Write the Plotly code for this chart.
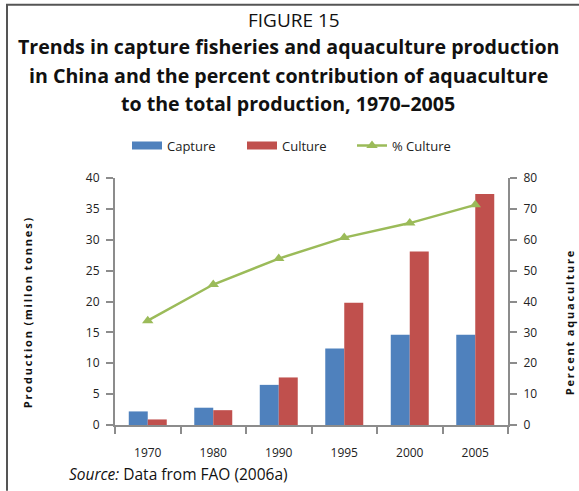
import plotly.graph_objects as go

years = ["1970", "1980", "1990", "1995", "2000", "2005"]
capture = [2.2, 2.8, 6.5, 12.4, 14.6, 14.6]
culture = [0.9, 2.4, 7.7, 19.8, 28.1, 37.4]
pct_culture = [33.8, 45.5, 53.9, 60.7, 65.4, 71.3]
left_ticks = [0, 5, 10, 15, 20, 25, 30, 35, 40]
right_ticks = [0, 10, 20, 30, 40, 50, 60, 70, 80]

W, H = 579, 491
L, R, T, B = 115, 71, 177.5, 66
PW = W - L - R
PH = H - T - B

def px_x(x):
    return (x - L) / PW

def px_y(y):
    return (H - B - y) / PH

FONT = "Open Sans"
AXC = "#8c8c8c"
BLUE, RED, GREEN = "#4F81BD", "#C0504D", "#9BBB59"

fig = go.Figure()
fig.add_trace(go.Bar(x=years, y=capture, name="Capture", marker_color=BLUE,
                     marker_line_width=0, showlegend=False, legendgroup="cap"))
fig.add_trace(go.Bar(x=years, y=culture, name="Culture", marker_color=RED,
                     marker_line_width=0, showlegend=False, legendgroup="cul"))
fig.add_trace(go.Scatter(x=years, y=pct_culture, name="% Culture", yaxis="y2",
                         mode="lines+markers",
                         line=dict(color=GREEN, width=2.5),
                         marker=dict(symbol="triangle-up", size=10, color=GREEN),
                         legend="legend3"))
# legend-only stand-ins giving the wide flat swatches of the reference legend
fig.add_trace(go.Scatter(x=[None], y=[None], mode="lines", name="Capture",
                         line=dict(color=BLUE, width=8), legendgroup="cap", legend="legend"))
fig.add_trace(go.Scatter(x=[None], y=[None], mode="lines", name="Culture",
                         line=dict(color=RED, width=8), legendgroup="cul", legend="legend2"))

annotations = [
    dict(text="FIGURE 15", x=px_x(294), xref="paper", y=px_y(19), yref="paper",
         xanchor="center", yanchor="middle", showarrow=False,
         font=dict(family=FONT, size=19, color="#111")),
]
title_lines = ["Trends in capture fisheries and aquaculture production",
               "in China and the percent contribution of aquaculture",
               "to the total production, 1970\u20132005"]
for t, yy in zip(title_lines, [46, 75, 103]):
    annotations.append(dict(text="<b>" + t + "</b>", x=px_x(288), xref="paper",
                            y=px_y(yy), yref="paper", xanchor="center", yanchor="middle",
                            showarrow=False, font=dict(family=FONT, size=19.6, color="#111")))
annotations.append(dict(text="<i>Source:</i> Data from FAO (2006a)", x=px_x(67), xref="paper",
                        y=px_y(474), yref="paper", xanchor="left", yanchor="middle",
                        showarrow=False, font=dict(family=FONT, size=15.5, color="#111")))

def spaced(s):
    return "\u2009".join(s).replace("\u2009 \u2009", "\u2009\u2009\u2009")

annotations.append(dict(text="<b>" + spaced("Production (millon tonnes)") + "</b>",
                        x=px_x(27), xref="paper", y=px_y(313), yref="paper",
                        xanchor="center", yanchor="middle", textangle=-90, showarrow=False,
                        font=dict(family=FONT, size=11, color="#111")))
annotations.append(dict(text="<b>" + spaced("Percent aquaculture") + "</b>",
                        x=px_x(569), xref="paper", y=px_y(323), yref="paper",
                        xanchor="center", yanchor="middle", textangle=-90, showarrow=False,
                        font=dict(family=FONT, size=11, color="#111")))

shapes = [
    dict(type="line", xref="paper", yref="paper", x0=px_x(7), x1=px_x(7),
         y0=px_y(4), y1=px_y(491), line=dict(color="#555", width=2)),
    dict(type="line", xref="paper", yref="paper", x0=px_x(6), x1=px_x(579),
         y0=px_y(4), y1=px_y(4), line=dict(color="#555", width=2)),
]

def leg(xpx):
    return dict(orientation="h", x=px_x(xpx), xanchor="left", y=px_y(145), yanchor="middle",
                font=dict(family=FONT, size=13, color="#222"), bgcolor="rgba(0,0,0,0)",
                itemwidth=30)

fig.update_layout(
    width=W, height=H,
    margin=dict(l=L, r=R, t=T, b=B),
    paper_bgcolor="white", plot_bgcolor="white",
    barmode="group", bargap=0.42, bargroupgap=0,
    font=dict(family=FONT, size=12, color="#222"),
    showlegend=True,
    legend=leg(127), legend2=leg(242), legend3=leg(352),
    xaxis=dict(type="category", showgrid=False, showline=True, linecolor=AXC, linewidth=2,
               ticks="outside", tickson="boundaries", ticklen=7, tickwidth=2, tickcolor=AXC,
               ticklabelstandoff=16, tickfont=dict(size=12, color="#222")),
    yaxis=dict(range=[0, 40], tickvals=left_ticks, showgrid=False, zeroline=False,
               showline=True, linecolor=AXC, linewidth=2, ticks="outside", ticklen=7,
               tickwidth=2, tickcolor=AXC, ticklabelstandoff=4,
               tickfont=dict(size=12, color="#222")),
    yaxis2=dict(range=[0, 80], tickvals=right_ticks, overlaying="y", side="right",
                showgrid=False, zeroline=False, showline=True, linecolor=AXC, linewidth=2,
                ticks="outside", ticklen=7, tickwidth=2, tickcolor=AXC, ticklabelstandoff=4,
                tickfont=dict(size=12, color="#222")),
    annotations=annotations, shapes=shapes,
)

fig.write_html("out.html", config={"displayModeBar": False},
               post_script="document.body.style.margin='0';")
